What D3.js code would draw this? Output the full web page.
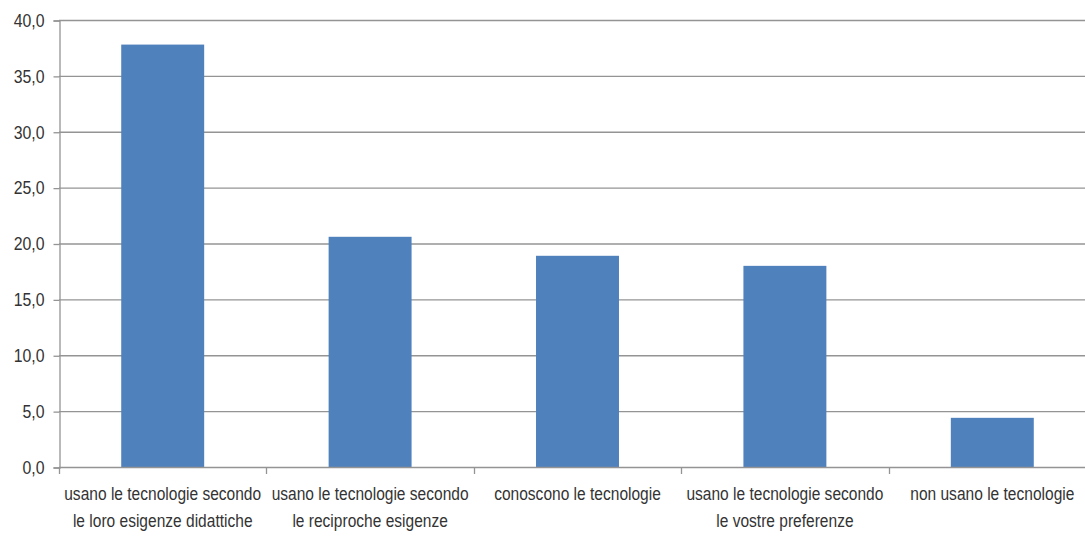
<!DOCTYPE html>
<html>
<head>
<meta charset="utf-8">
<script src="https://cdn.jsdelivr.net/npm/d3@7"></script>
<style>
  html, body { margin: 0; padding: 0; background: #fff; }
  svg { display: block; }
  text { font-family: "Liberation Sans", Arial, sans-serif; fill: #333333; }
</style>
</head>
<body>
<svg id="chart" width="1085" height="540"></svg>
<script>
const categories = [
  "usano le tecnologie secondo\nle loro esigenze didattiche",
  "usano le tecnologie secondo\nle reciproche esigenze",
  "conoscono le tecnologie",
  "usano le tecnologie secondo\nle vostre preferenze",
  "non usano le tecnologie"
];
const values = [37.8, 20.6, 18.9, 18.0, 4.4];
const yTicks = [0, 5, 10, 15, 20, 25, 30, 35, 40];

const svg = d3.select("#chart");
const mLeft = 59, mRight = 1096, mTop = 20, mBottom = 467;

const x = d3.scaleBand().domain(categories).range([mLeft, mRight])
  .paddingInner(0.6).paddingOuter(0.3);
const y = d3.scaleLinear().domain([0, 40]).range([mBottom, mTop]);

const fmt = v => d3.format(".1f")(v).replace(".", ",");
const gridColor = "#949494";

// gridlines
svg.append("g").selectAll("line").data(yTicks.filter(d => d > 0)).join("line")
  .attr("x1", mLeft).attr("x2", mRight)
  .attr("y1", d => y(d) + 0.5).attr("y2", d => y(d) + 0.5)
  .attr("stroke", gridColor).attr("stroke-width", 1.3);

// y axis
const yAxis = d3.axisLeft(y).tickValues(yTicks).tickFormat(fmt).tickSize(6).tickPadding(9);
const gy = svg.append("g").attr("transform", `translate(${mLeft + 0.5},0.5)`).call(yAxis);
gy.attr("font-family", null).attr("font-size", null);
gy.select(".domain").attr("stroke", gridColor).attr("stroke-width", 1.3);
gy.selectAll(".tick line").attr("stroke", gridColor).attr("stroke-width", 1.3);
gy.selectAll(".tick text")
  .attr("x", 0).attr("dx", null)
  .attr("transform", "translate(-15,0) scale(0.88,1)")
  .style("font-size", "18px").attr("fill", "#333333");

// bars
svg.append("g").selectAll("rect").data(values).join("rect")
  .attr("x", (d, i) => x(categories[i]))
  .attr("width", x.bandwidth())
  .attr("y", d => y(d))
  .attr("height", d => y(0) - y(d))
  .attr("fill", "#4f81bd");

// x axis line and boundary ticks
const step = x.step();
const offset = (step - x.bandwidth()) / 2;
const bounds = categories.map(c => x(c) - offset).concat([x(categories[categories.length - 1]) - offset + step]);
svg.append("line").attr("x1", mLeft).attr("x2", mRight)
  .attr("y1", y(0) + 0.5).attr("y2", y(0) + 0.5)
  .attr("stroke", gridColor).attr("stroke-width", 1.3);
svg.append("g").selectAll("line").data(bounds).join("line")
  .attr("x1", d => Math.round(d) + 0.5).attr("x2", d => Math.round(d) + 0.5)
  .attr("y1", y(0)).attr("y2", y(0) + 7)
  .attr("stroke", gridColor).attr("stroke-width", 1.3);

// x labels
const lab = svg.append("g").selectAll("text").data(categories).join("text")
  .attr("transform", c => `translate(${x(c) + x.bandwidth() / 2},500) scale(0.84,1)`)
  .attr("text-anchor", "middle")
  .style("font-size", "18.5px");
lab.selectAll("tspan").data(c => c.split("\n")).join("tspan")
  .attr("x", 0)
  .attr("dy", (d, i) => i === 0 ? 0 : 27)
  .text(d => d);
</script>
</body>
</html>
